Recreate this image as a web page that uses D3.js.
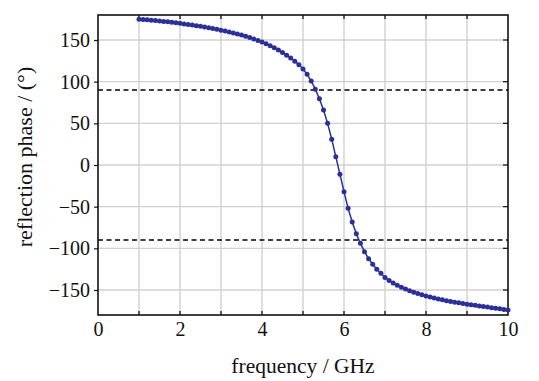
<!DOCTYPE html>
<html lang="en">
<head>
<meta charset="utf-8">
<title>reflection phase</title>
<script src="https://cdn.jsdelivr.net/npm/d3@7"></script>
<style>
	body { margin: 0; background: #fff; }
	text { font-family: "Liberation Serif", "DejaVu Serif", serif; fill: #111; }
</style>
</head>
<body>
<div id="chart"></div>
<script>
var freq = [1.0,1.1,1.2,1.3,1.4,1.5,1.6,1.7,1.8,1.9,
	2.0,2.1,2.2,2.3,2.4,2.5,2.6,2.7,2.8,2.9,
	3.0,3.1,3.2,3.3,3.4,3.5,3.6,3.7,3.8,3.9,
	4.0,4.1,4.2,4.3,4.4,4.5,4.6,4.7,4.8,4.9,
	5.0,5.1,5.2,5.3,5.4,5.5,5.6,5.7,5.8,5.9,
	6.0,6.1,6.2,6.3,6.4,6.5,6.6,6.7,6.8,6.9,
	7.0,7.1,7.2,7.3,7.4,7.5,7.6,7.7,7.8,7.9,
	8.0,8.1,8.2,8.3,8.4,8.5,8.6,8.7,8.8,8.9,
	9.0,9.1,9.2,9.3,9.4,9.5,9.6,9.7,9.8,9.9,10.0]
var phase = [175.0,174.6,174.2,173.8,173.3,172.8,172.3,171.8,171.2,170.6,
	170.0,169.3,168.6,167.9,167.2,166.4,165.6,164.7,163.8,162.8,
	161.8,160.8,159.7,158.5,157.2,155.9,154.5,153.0,151.3,149.5,
	147.5,145.4,143.1,140.6,137.9,135.0,131.8,128.4,124.6,120.3,
	115.2,108.8,100.8,91.0,79.5,66.0,50.0,31.0,10.0,-11.0,
	-32.0,-52.0,-68.5,-82.5,-94.0,-104.0,-112.5,-119.0,-125.0,-130.0,
	-135.0,-138.5,-141.5,-144.2,-146.6,-148.8,-150.8,-152.6,-154.2,-155.7,
	-157.1,-158.4,-159.6,-160.7,-161.8,-162.8,-163.7,-164.6,-165.4,-166.2,
	-167.0,-167.7,-168.4,-169.1,-169.8,-170.5,-171.2,-171.9,-172.6,-173.3,-174.0]

var xTicks = [0,2,4,6,8,10]
var xMinor = [1,2,3,4,5,6,7,8,9]
var yTicks = [-150,-100,-50,0,50,100,150]
var refLines = [90,-90]

var W = 539, H = 381
var mL = 98, mR = 508, mT = 15, mB = 315

var xScale = d3.scaleLinear().domain([0,10]).range([mL,mR])
var yScale = d3.scaleLinear().domain([-180,180]).range([mB,mT])

var svg = d3.select("#chart").append("svg")
	.attr("width",W)
	.attr("height",H)

// grid
svg.append("g").selectAll("line").data(xMinor).enter().append("line")
	.attr("x1",function(d){return xScale(d)})
	.attr("x2",function(d){return xScale(d)})
	.attr("y1",mT).attr("y2",mB)
	.attr("stroke","#d0d0d0").attr("stroke-width",1.4)
svg.append("g").selectAll("line").data(yTicks).enter().append("line")
	.attr("x1",mL).attr("x2",mR)
	.attr("y1",function(d){return yScale(d)})
	.attr("y2",function(d){return yScale(d)})
	.attr("stroke","#d0d0d0").attr("stroke-width",1.4)

// dashed reference lines
svg.append("g").selectAll("line").data(refLines).enter().append("line")
	.attr("x1",mL).attr("x2",mR)
	.attr("y1",function(d){return yScale(d)})
	.attr("y2",function(d){return yScale(d)})
	.attr("stroke","#000").attr("stroke-width",1.4)
	.style("stroke-dasharray","5,3.5")

// axes
var xAxis = d3.axisBottom(xScale).tickValues(xTicks).tickSize(0).tickPadding(7)
	.tickFormat(d3.format("d"))
var gx = svg.append("g").attr("transform","translate(0,"+mB+")").call(xAxis)
gx.attr("font-size",null).attr("font-family",null)
gx.select(".domain").remove()
gx.selectAll("text").style("font-size","20px").style("font-family","Liberation Serif").attr("fill","#111")

var yAxis = d3.axisLeft(yScale).tickValues(yTicks).tickSize(4).tickPadding(4)
	.tickFormat(function(d){return d<0 ? "\u2212"+Math.abs(d) : d})
var gy = svg.append("g").attr("transform","translate("+mL+",0)").call(yAxis)
gy.attr("font-size",null).attr("font-family",null)
gy.select(".domain").remove()
gy.selectAll("line").attr("stroke","#111").attr("stroke-width",1.2)
gy.selectAll("text").style("font-size","20px").style("font-family","Liberation Serif").attr("fill","#111")

// inner ticks on bottom, top, right
svg.append("g").selectAll("line").data(xMinor).enter().append("line")
	.attr("x1",function(d){return xScale(d)})
	.attr("x2",function(d){return xScale(d)})
	.attr("y1",mB).attr("y2",mB-4)
	.attr("stroke","#111").attr("stroke-width",1.3)
svg.append("g").selectAll("line").data(xMinor).enter().append("line")
	.attr("x1",function(d){return xScale(d)})
	.attr("x2",function(d){return xScale(d)})
	.attr("y1",mT).attr("y2",mT+4)
	.attr("stroke","#111").attr("stroke-width",1.3)
svg.append("g").selectAll("line").data(yTicks).enter().append("line")
	.attr("x1",mR).attr("x2",mR-5)
	.attr("y1",function(d){return yScale(d)})
	.attr("y2",function(d){return yScale(d)})
	.attr("stroke","#111").attr("stroke-width",1.2)

// frame
svg.append("rect")
	.attr("x",mL).attr("y",mT)
	.attr("width",mR-mL).attr("height",mB-mT)
	.attr("fill","none").attr("stroke","#111").attr("stroke-width",1.6)

// curve
var pts = freq.map(function(f,i){return {f:f,p:phase[i]}})
var line = d3.line()
	.x(function(d){return xScale(d.f)})
	.y(function(d){return yScale(d.p)})
svg.append("path").datum(pts)
	.attr("d",line)
	.attr("fill","none")
	.attr("stroke","#2b2f98")
	.attr("stroke-width",1.5)
svg.append("g").selectAll("circle").data(pts).enter().append("circle")
	.attr("cx",function(d){return xScale(d.f)})
	.attr("cy",function(d){return yScale(d.p)})
	.attr("r",2.5)
	.attr("fill","#2b2f98")

// labels
svg.append("text")
	.attr("x",(mL+mR)/2).attr("y",373)
	.attr("text-anchor","middle")
	.style("font-size","21.5px")
	.text("frequency / GHz")
svg.append("text")
	.attr("transform","translate(32,157) rotate(-90)")
	.attr("text-anchor","middle")
	.style("font-size","22px")
	.text("reflection phase / (\u00b0)")
</script>
</body>
</html>
